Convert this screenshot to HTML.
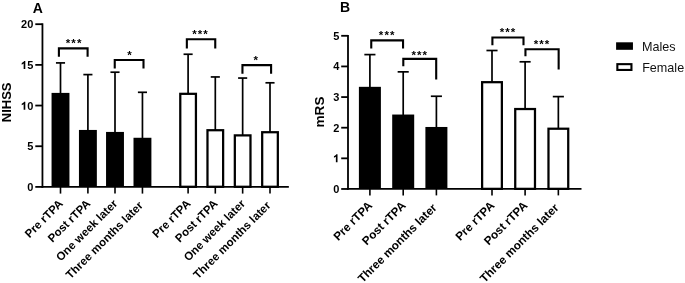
<!DOCTYPE html>
<html><head><meta charset="utf-8"><style>
html,body{margin:0;padding:0;background:#fff;width:685px;height:283px;overflow:hidden}
svg{display:block;will-change:transform}
</style></head><body>
<svg width="685" height="283" viewBox="0 0 685 283">
<line x1="42.45" y1="23.30" x2="42.45" y2="187.80" stroke="#000" stroke-width="1.8"/>
<line x1="41.55" y1="186.90" x2="288.85" y2="186.90" stroke="#000" stroke-width="1.8"/>
<line x1="35.30" y1="186.90" x2="42.45" y2="186.90" stroke="#000" stroke-width="1.8"/>
<text x="27.18" y="191.00" font-family="Liberation Sans" font-weight="bold" font-size="11">0</text>
<line x1="35.30" y1="146.23" x2="42.45" y2="146.23" stroke="#000" stroke-width="1.8"/>
<text x="27.18" y="150.33" font-family="Liberation Sans" font-weight="bold" font-size="11">5</text>
<line x1="35.30" y1="105.55" x2="42.45" y2="105.55" stroke="#000" stroke-width="1.8"/>
<path d="M25.30,109.65 L25.30,101.77 L24.09,101.77 L23.65,102.39 L21.72,103.77 L21.72,105.36 L23.65,104.15 L23.65,109.65 Z" fill="#000"/><text x="27.18" y="109.65" font-family="Liberation Sans" font-weight="bold" font-size="11">0</text>
<line x1="35.30" y1="64.88" x2="42.45" y2="64.88" stroke="#000" stroke-width="1.8"/>
<path d="M25.30,68.98 L25.30,61.10 L24.09,61.10 L23.65,61.72 L21.72,63.09 L21.72,64.69 L23.65,63.48 L23.65,68.98 Z" fill="#000"/><text x="27.18" y="68.98" font-family="Liberation Sans" font-weight="bold" font-size="11">5</text>
<line x1="35.30" y1="24.20" x2="42.45" y2="24.20" stroke="#000" stroke-width="1.8"/>
<text x="21.06" y="28.30" font-family="Liberation Sans" font-weight="bold" font-size="11">2</text><text x="27.18" y="28.30" font-family="Liberation Sans" font-weight="bold" font-size="11">0</text>
<text x="32.75" y="12.7" font-family="Liberation Sans" font-weight="bold" font-size="14">A</text>
<text transform="translate(10.95,122.2) rotate(-90)" font-family="Liberation Sans" font-weight="bold" font-size="13">NIHSS</text>
<line x1="60.50" y1="62.90" x2="60.50" y2="93.90" stroke="#000" stroke-width="1.7"/>
<line x1="55.95" y1="62.90" x2="65.05" y2="62.90" stroke="#000" stroke-width="1.7"/>
<rect x="51.55" y="92.90" width="17.90" height="94.00" fill="#000"/>
<line x1="60.50" y1="186.90" x2="60.50" y2="193.60" stroke="#000" stroke-width="1.6"/>
<line x1="87.90" y1="74.60" x2="87.90" y2="130.94" stroke="#000" stroke-width="1.7"/>
<line x1="83.35" y1="74.60" x2="92.45" y2="74.60" stroke="#000" stroke-width="1.7"/>
<rect x="78.95" y="129.94" width="17.90" height="56.96" fill="#000"/>
<line x1="87.90" y1="186.90" x2="87.90" y2="193.60" stroke="#000" stroke-width="1.6"/>
<line x1="115.00" y1="72.20" x2="115.00" y2="132.93" stroke="#000" stroke-width="1.7"/>
<line x1="110.45" y1="72.20" x2="119.55" y2="72.20" stroke="#000" stroke-width="1.7"/>
<rect x="106.05" y="131.93" width="17.90" height="54.97" fill="#000"/>
<line x1="115.00" y1="186.90" x2="115.00" y2="193.60" stroke="#000" stroke-width="1.6"/>
<line x1="142.45" y1="92.30" x2="142.45" y2="138.77" stroke="#000" stroke-width="1.7"/>
<line x1="137.90" y1="92.30" x2="147.00" y2="92.30" stroke="#000" stroke-width="1.7"/>
<rect x="133.50" y="137.77" width="17.90" height="49.13" fill="#000"/>
<line x1="142.45" y1="186.90" x2="142.45" y2="193.60" stroke="#000" stroke-width="1.6"/>
<line x1="188.10" y1="54.25" x2="188.10" y2="93.70" stroke="#000" stroke-width="1.7"/>
<line x1="183.55" y1="54.25" x2="192.65" y2="54.25" stroke="#000" stroke-width="1.7"/>
<rect x="180.28" y="93.83" width="15.65" height="92.95" fill="#fff" stroke="#000" stroke-width="2.25"/>
<line x1="188.10" y1="186.90" x2="188.10" y2="193.60" stroke="#000" stroke-width="1.6"/>
<line x1="215.30" y1="76.95" x2="215.30" y2="130.10" stroke="#000" stroke-width="1.7"/>
<line x1="210.75" y1="76.95" x2="219.85" y2="76.95" stroke="#000" stroke-width="1.7"/>
<rect x="207.48" y="130.22" width="15.65" height="56.55" fill="#fff" stroke="#000" stroke-width="2.25"/>
<line x1="215.30" y1="186.90" x2="215.30" y2="193.60" stroke="#000" stroke-width="1.6"/>
<line x1="242.65" y1="78.05" x2="242.65" y2="135.25" stroke="#000" stroke-width="1.7"/>
<line x1="238.10" y1="78.05" x2="247.20" y2="78.05" stroke="#000" stroke-width="1.7"/>
<rect x="234.83" y="135.38" width="15.65" height="51.40" fill="#fff" stroke="#000" stroke-width="2.25"/>
<line x1="242.65" y1="186.90" x2="242.65" y2="193.60" stroke="#000" stroke-width="1.6"/>
<line x1="270.00" y1="82.80" x2="270.00" y2="132.10" stroke="#000" stroke-width="1.7"/>
<line x1="265.45" y1="82.80" x2="274.55" y2="82.80" stroke="#000" stroke-width="1.7"/>
<rect x="262.18" y="132.22" width="15.65" height="54.55" fill="#fff" stroke="#000" stroke-width="2.25"/>
<line x1="270.00" y1="186.90" x2="270.00" y2="193.60" stroke="#000" stroke-width="1.6"/>
<polyline points="58.90,56.80 58.90,48.35 87.60,48.35 87.60,56.80" fill="none" stroke="#000" stroke-width="2.1" stroke-linejoin="miter"/><text x="65.78" y="46.57" font-family="Liberation Sans" font-weight="bold" font-size="11.5" letter-spacing="1.1">***</text>
<polyline points="114.75,68.50 114.75,60.00 143.50,60.00 143.50,68.50" fill="none" stroke="#000" stroke-width="2.1" stroke-linejoin="miter"/><text x="127.20" y="58.87" font-family="Liberation Sans" font-weight="bold" font-size="11.5" letter-spacing="1.1">*</text>
<polyline points="186.85,48.50 186.85,39.30 215.25,39.30 215.25,48.50" fill="none" stroke="#000" stroke-width="2.1" stroke-linejoin="miter"/><text x="192.18" y="38.42" font-family="Liberation Sans" font-weight="bold" font-size="11.5" letter-spacing="1.1">***</text>
<polyline points="242.45,73.70 242.45,65.10 271.10,65.10 271.10,73.70" fill="none" stroke="#000" stroke-width="2.1" stroke-linejoin="miter"/><text x="253.45" y="63.87" font-family="Liberation Sans" font-weight="bold" font-size="11.5" letter-spacing="1.1">*</text>
<text transform="translate(63.70,204.30) rotate(-45)" font-family="Liberation Sans" font-weight="bold" font-size="11.5" text-anchor="end">Pre rTPA</text>
<text transform="translate(91.10,204.30) rotate(-45)" font-family="Liberation Sans" font-weight="bold" font-size="11.5" text-anchor="end">Post rTPA</text>
<text transform="translate(118.20,204.30) rotate(-45)" font-family="Liberation Sans" font-weight="bold" font-size="11.5" text-anchor="end">One week later</text>
<text transform="translate(143.75,206.20) rotate(-45)" font-family="Liberation Sans" font-weight="bold" font-size="11.5" text-anchor="end">Three months later</text>
<text transform="translate(191.30,204.30) rotate(-45)" font-family="Liberation Sans" font-weight="bold" font-size="11.5" text-anchor="end">Pre rTPA</text>
<text transform="translate(218.50,204.30) rotate(-45)" font-family="Liberation Sans" font-weight="bold" font-size="11.5" text-anchor="end">Post rTPA</text>
<text transform="translate(245.85,204.30) rotate(-45)" font-family="Liberation Sans" font-weight="bold" font-size="11.5" text-anchor="end">One week later</text>
<text transform="translate(271.30,206.20) rotate(-45)" font-family="Liberation Sans" font-weight="bold" font-size="11.5" text-anchor="end">Three months later</text>
<line x1="348.00" y1="34.90" x2="348.00" y2="189.87" stroke="#000" stroke-width="1.8"/>
<line x1="347.10" y1="188.97" x2="581.50" y2="188.97" stroke="#000" stroke-width="1.8"/>
<line x1="341.20" y1="188.97" x2="348.00" y2="188.97" stroke="#000" stroke-width="1.8"/>
<text x="333.28" y="192.77" font-family="Liberation Sans" font-weight="bold" font-size="11">0</text>
<line x1="341.20" y1="158.34" x2="348.00" y2="158.34" stroke="#000" stroke-width="1.8"/>
<path d="M337.52,162.14 L337.52,154.26 L336.31,154.26 L335.87,154.88 L333.94,156.25 L333.94,157.85 L335.87,156.64 L335.87,162.14 Z" fill="#000"/>
<line x1="341.20" y1="127.70" x2="348.00" y2="127.70" stroke="#000" stroke-width="1.8"/>
<text x="333.28" y="131.50" font-family="Liberation Sans" font-weight="bold" font-size="11">2</text>
<line x1="341.20" y1="97.07" x2="348.00" y2="97.07" stroke="#000" stroke-width="1.8"/>
<text x="333.28" y="100.87" font-family="Liberation Sans" font-weight="bold" font-size="11">3</text>
<line x1="341.20" y1="66.43" x2="348.00" y2="66.43" stroke="#000" stroke-width="1.8"/>
<text x="333.28" y="70.23" font-family="Liberation Sans" font-weight="bold" font-size="11">4</text>
<line x1="341.20" y1="35.80" x2="348.00" y2="35.80" stroke="#000" stroke-width="1.8"/>
<text x="333.28" y="39.60" font-family="Liberation Sans" font-weight="bold" font-size="11">5</text>
<text x="339.96" y="11.86" font-family="Liberation Sans" font-weight="bold" font-size="14">B</text>
<text transform="translate(324.3,127.5) rotate(-90)" font-family="Liberation Sans" font-weight="bold" font-size="13.6">mRS</text>
<line x1="369.90" y1="54.60" x2="369.90" y2="87.83" stroke="#000" stroke-width="1.7"/>
<line x1="364.35" y1="54.60" x2="375.45" y2="54.60" stroke="#000" stroke-width="1.7"/>
<rect x="358.90" y="86.83" width="22.00" height="102.14" fill="#000"/>
<line x1="369.90" y1="188.97" x2="369.90" y2="195.40" stroke="#000" stroke-width="1.6"/>
<line x1="403.20" y1="71.85" x2="403.20" y2="115.54" stroke="#000" stroke-width="1.7"/>
<line x1="397.65" y1="71.85" x2="408.75" y2="71.85" stroke="#000" stroke-width="1.7"/>
<rect x="392.20" y="114.54" width="22.00" height="74.43" fill="#000"/>
<line x1="403.20" y1="188.97" x2="403.20" y2="195.40" stroke="#000" stroke-width="1.6"/>
<line x1="436.40" y1="96.25" x2="436.40" y2="127.97" stroke="#000" stroke-width="1.7"/>
<line x1="430.85" y1="96.25" x2="441.95" y2="96.25" stroke="#000" stroke-width="1.7"/>
<rect x="425.40" y="126.97" width="22.00" height="62.00" fill="#000"/>
<line x1="436.40" y1="188.97" x2="436.40" y2="195.40" stroke="#000" stroke-width="1.6"/>
<line x1="492.00" y1="50.50" x2="492.00" y2="82.06" stroke="#000" stroke-width="1.7"/>
<line x1="486.45" y1="50.50" x2="497.55" y2="50.50" stroke="#000" stroke-width="1.7"/>
<rect x="482.12" y="82.19" width="19.75" height="106.66" fill="#fff" stroke="#000" stroke-width="2.25"/>
<line x1="492.00" y1="188.97" x2="492.00" y2="195.40" stroke="#000" stroke-width="1.6"/>
<line x1="525.10" y1="61.80" x2="525.10" y2="108.90" stroke="#000" stroke-width="1.7"/>
<line x1="519.55" y1="61.80" x2="530.65" y2="61.80" stroke="#000" stroke-width="1.7"/>
<rect x="515.23" y="109.03" width="19.75" height="79.82" fill="#fff" stroke="#000" stroke-width="2.25"/>
<line x1="525.10" y1="188.97" x2="525.10" y2="195.40" stroke="#000" stroke-width="1.6"/>
<line x1="558.35" y1="96.60" x2="558.35" y2="128.60" stroke="#000" stroke-width="1.7"/>
<line x1="552.80" y1="96.60" x2="563.90" y2="96.60" stroke="#000" stroke-width="1.7"/>
<rect x="548.48" y="128.72" width="19.75" height="60.12" fill="#fff" stroke="#000" stroke-width="2.25"/>
<line x1="558.35" y1="188.97" x2="558.35" y2="195.40" stroke="#000" stroke-width="1.6"/>
<polyline points="371.25,48.50 371.25,40.35 403.05,40.35 403.05,48.50" fill="none" stroke="#000" stroke-width="2.1" stroke-linejoin="miter"/><text x="378.83" y="38.67" font-family="Liberation Sans" font-weight="bold" font-size="11.5" letter-spacing="1.1">***</text>
<polyline points="403.30,66.30 403.30,58.85 436.20,58.85 436.20,79.60" fill="none" stroke="#000" stroke-width="2.1" stroke-linejoin="miter"/><text x="411.38" y="59.47" font-family="Liberation Sans" font-weight="bold" font-size="11.5" letter-spacing="1.1">***</text>
<polyline points="492.40,45.30 492.40,37.45 523.50,37.45 523.50,45.30" fill="none" stroke="#000" stroke-width="2.1" stroke-linejoin="miter"/><text x="499.73" y="35.82" font-family="Liberation Sans" font-weight="bold" font-size="11.5" letter-spacing="1.1">***</text>
<polyline points="525.45,56.35 525.45,49.20 558.65,49.20 558.65,69.40" fill="none" stroke="#000" stroke-width="2.1" stroke-linejoin="miter"/><text x="533.73" y="48.07" font-family="Liberation Sans" font-weight="bold" font-size="11.5" letter-spacing="1.1">***</text>
<text transform="translate(373.10,206.30) rotate(-45)" font-family="Liberation Sans" font-weight="bold" font-size="11.75" text-anchor="end">Pre rTPA</text>
<text transform="translate(406.40,206.30) rotate(-45)" font-family="Liberation Sans" font-weight="bold" font-size="11.75" text-anchor="end">Post rTPA</text>
<text transform="translate(437.50,208.40) rotate(-45)" font-family="Liberation Sans" font-weight="bold" font-size="11.75" text-anchor="end">Three months later</text>
<text transform="translate(495.20,206.30) rotate(-45)" font-family="Liberation Sans" font-weight="bold" font-size="11.75" text-anchor="end">Pre rTPA</text>
<text transform="translate(528.30,206.30) rotate(-45)" font-family="Liberation Sans" font-weight="bold" font-size="11.75" text-anchor="end">Post rTPA</text>
<text transform="translate(559.45,208.40) rotate(-45)" font-family="Liberation Sans" font-weight="bold" font-size="11.75" text-anchor="end">Three months later</text>
<rect x="616.10" y="42.30" width="16.85" height="7.50" fill="#000"/>
<rect x="617.35" y="64.15" width="14.10" height="5.80" fill="#fff" stroke="#000" stroke-width="2.1"/>
<text x="641.97" y="50.8" font-family="Liberation Sans" font-size="12.6" fill="#111">Males</text>
<text x="642.17" y="71.9" font-family="Liberation Sans" font-size="12.6" fill="#111">Female</text>
</svg>
</body></html>
